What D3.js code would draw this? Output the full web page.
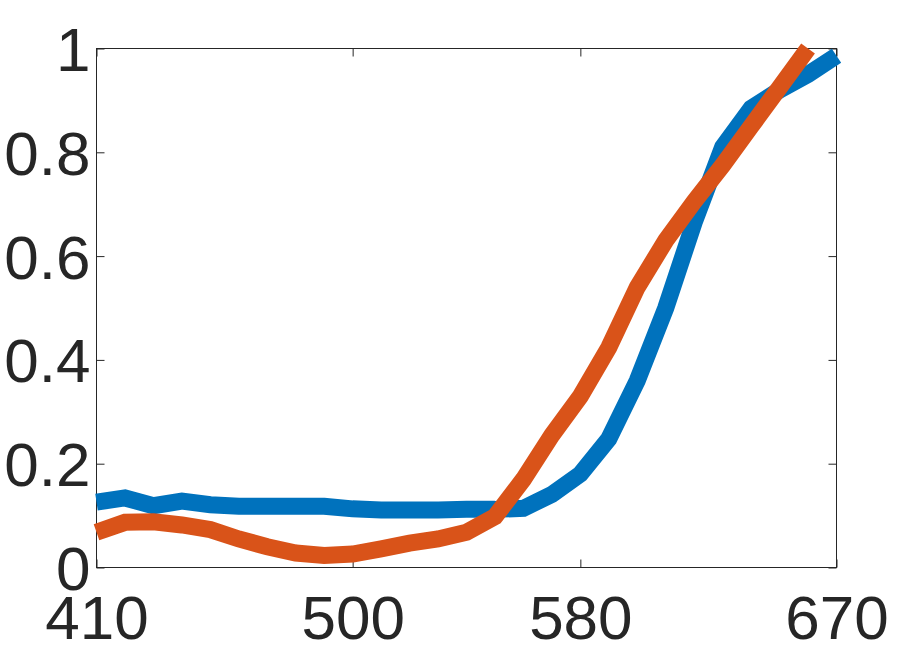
<!DOCTYPE html>
<html>
<head>
<meta charset="utf-8">
<script src="https://cdn.jsdelivr.net/npm/d3@7"></script>
<style>
  html, body { margin: 0; padding: 0; background: #fff; }
  svg { display: block; }
</style>
</head>
<body>
<svg id="chart" width="900" height="647"></svg>
<script>
const wavelengths = [410,420,430,440,450,460,470,480,490,500,510,520,530,540,550,560,570,580,590,600,610,620,630,640,650,660,670];
const blueValues = [0.126,0.134,0.119,0.128,0.121,0.118,0.118,0.118,0.118,0.113,0.111,0.111,0.111,0.112,0.112,0.114,0.141,0.18,0.248,0.36,0.50,0.665,0.81,0.885,0.92,0.95,0.986];
const orangeValues = [0.068,0.087,0.088,0.082,0.073,0.055,0.040,0.028,0.023,0.026,0.036,0.047,0.055,0.068,0.098,0.17,0.255,0.33,0.424,0.54,0.63,0.705,0.775,0.85,0.925,1.0];
const xTicks = [410,500,580,670];
const yTicks = [0,0.2,0.4,0.6,0.8,1];
const yTickLabels = ["0","0.2","0.4","0.6","0.8","1"];

(function(){
const svg = d3.select("#chart");
const mLeft = 96.5, mRight = 836.5, mTop = 48.5, mBottom = 567.5;
const x = d3.scaleLinear().domain([410,670]).range([mLeft,mRight]);
const y = d3.scaleLinear().domain([0,1]).range([mBottom,mTop]);
const axisColor = "#262626";
const fontFamily = "'Liberation Sans', Arial, Helvetica, sans-serif";
const fs = 62;

// Box
svg.append("rect").attr("x",mLeft).attr("y",mTop).attr("width",mRight-mLeft).attr("height",mBottom-mTop)
  .attr("fill","none").attr("stroke",axisColor).attr("stroke-width",1);

// Axes with inward ticks
const tl = 8;
const gB = svg.append("g").attr("transform",`translate(0,${mBottom})`)
  .call(d3.axisBottom(x).tickValues(xTicks).tickSize(-tl).tickSizeOuter(0).tickFormat(d3.format("d")));
const gT = svg.append("g").attr("transform",`translate(0,${mTop})`)
  .call(d3.axisTop(x).tickValues(xTicks).tickSize(-tl).tickSizeOuter(0).tickFormat(""));
const gL = svg.append("g").attr("transform",`translate(${mLeft},0)`)
  .call(d3.axisLeft(y).tickValues(yTicks).tickSize(-tl).tickSizeOuter(0).tickFormat((d,i)=>yTickLabels[i]));
const gR = svg.append("g").attr("transform",`translate(${mRight},0)`)
  .call(d3.axisRight(y).tickValues(yTicks).tickSize(-tl).tickSizeOuter(0).tickFormat(""));

[gB,gT,gL,gR].forEach(g => {
  g.select(".domain").remove();
  g.selectAll(".tick line").attr("stroke",axisColor).attr("stroke-width",1);
});
gB.selectAll(".tick text").attr("fill",axisColor).attr("font-family",fontFamily).attr("font-size",fs)
  .attr("y",71).attr("dy",null).attr("text-anchor","middle");
gL.selectAll(".tick text").attr("fill",axisColor).attr("font-family",fontFamily).attr("font-size",fs)
  .attr("x",-6).attr("dy",null).attr("y",22).attr("text-anchor","end");

// Lines
const lineGen = d3.line().x(d=>x(d[0])).y(d=>y(d[1]));
const blueData = wavelengths.map((w,i)=>[w,blueValues[i]]);
const orangeData = orangeValues.map((v,i)=>[wavelengths[i],v]);
svg.append("path").datum(blueData).attr("d",lineGen).attr("fill","none")
  .attr("stroke","#0072BD").attr("stroke-width",17).attr("stroke-linejoin","miter").attr("stroke-linecap","butt");
svg.append("path").datum(orangeData).attr("d",lineGen).attr("fill","none")
  .attr("stroke","#D95319").attr("stroke-width",17).attr("stroke-linejoin","miter").attr("stroke-linecap","butt");
})();
</script>
</body>
</html>
